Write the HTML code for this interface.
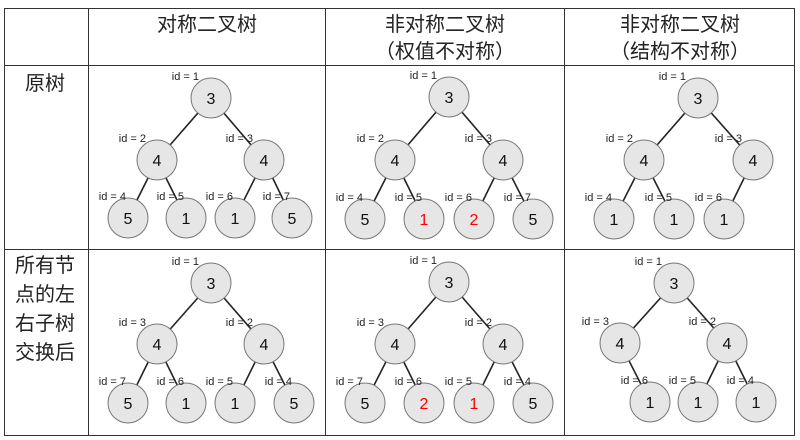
<!DOCTYPE html>
<html><head><meta charset="utf-8"><style>
body{margin:0;background:#fff;width:800px;height:440px;overflow:hidden}
svg{display:block}
.h{font-family:"Liberation Sans","Noto Sans CJK SC",sans-serif;font-size:20px;fill:#222}
.n circle{fill:#e6e6e6;stroke:#777;stroke-width:1}
.v{font-family:"Liberation Sans",sans-serif;font-size:16px;text-anchor:middle;fill:#111}
.r{fill:#f00}
.l{font-family:"Liberation Sans",sans-serif;font-size:11px;text-anchor:end;fill:#222}
line.e{stroke:#222;stroke-width:1.6}
</style></head><body>
<svg width="800" height="440" viewBox="0 0 800 440">
<g stroke="#333" stroke-width="1" fill="none">
<rect x="4.5" y="8.5" width="790" height="427"/>
<line x1="88.5" y1="8" x2="88.5" y2="436"/>
<line x1="325.5" y1="8" x2="325.5" y2="436"/>
<line x1="564.5" y1="8" x2="564.5" y2="436"/>
<line x1="4" y1="65.5" x2="795" y2="65.5"/>
<line x1="4" y1="249.5" x2="795" y2="249.5"/>
</g>
<text class="h" x="207" y="31" text-anchor="middle">对称二叉树</text>
<text class="h" x="445" y="31" text-anchor="middle">非对称二叉树</text>
<text class="h" x="445" y="58" text-anchor="middle">（权值不对称）</text>
<text class="h" x="680" y="31" text-anchor="middle">非对称二叉树</text>
<text class="h" x="680" y="58" text-anchor="middle">（结构不对称）</text>
<text class="h" x="45" y="90" text-anchor="middle">原树</text>
<text class="h" x="45" y="272" text-anchor="middle">所有节</text>
<text class="h" x="45" y="301" text-anchor="middle">点的左</text>
<text class="h" x="45" y="330" text-anchor="middle">右子树</text>
<text class="h" x="45" y="359" text-anchor="middle">交换后</text>

<!-- T1R1 -->
<line class="e" x1="211" y1="98" x2="157" y2="160"/><line class="e" x1="211" y1="98" x2="264" y2="160"/>
<line class="e" x1="157" y1="160" x2="128" y2="218"/><line class="e" x1="157" y1="160" x2="186" y2="218"/>
<line class="e" x1="264" y1="160" x2="235" y2="218"/><line class="e" x1="264" y1="160" x2="292" y2="218"/>
<g class="n">
<circle cx="211" cy="98" r="20"/><circle cx="157" cy="160" r="20"/><circle cx="264" cy="160" r="20"/>
<circle cx="128" cy="218" r="20"/><circle cx="186" cy="218" r="20"/><circle cx="235" cy="218" r="20"/><circle cx="292" cy="218" r="20"/>
</g>
<text class="v" x="211" y="104">3</text><text class="v" x="157" y="166">4</text><text class="v" x="264" y="166">4</text>
<text class="v" x="128" y="224">5</text><text class="v" x="186" y="224">1</text><text class="v" x="235" y="224">1</text><text class="v" x="292" y="224">5</text>
<text class="l" x="199" y="80">id = 1</text><text class="l" x="146" y="142">id = 2</text><text class="l" x="253" y="142">id = 3</text>
<text class="l" x="126" y="200">id = 4</text><text class="l" x="184" y="200">id = 5</text><text class="l" x="233" y="200">id = 6</text><text class="l" x="290" y="200">id = 7</text>

<!-- T2R1 -->
<line class="e" x1="449" y1="97" x2="395" y2="160"/><line class="e" x1="449" y1="97" x2="503" y2="160"/>
<line class="e" x1="395" y1="160" x2="365" y2="219"/><line class="e" x1="395" y1="160" x2="424" y2="219"/>
<line class="e" x1="503" y1="160" x2="474" y2="219"/><line class="e" x1="503" y1="160" x2="533" y2="219"/>
<g class="n">
<circle cx="449" cy="97" r="20"/><circle cx="395" cy="160" r="20"/><circle cx="503" cy="160" r="20"/>
<circle cx="365" cy="219" r="20"/><circle cx="424" cy="219" r="20"/><circle cx="474" cy="219" r="20"/><circle cx="533" cy="219" r="20"/>
</g>
<text class="v" x="449" y="103">3</text><text class="v" x="395" y="166">4</text><text class="v" x="503" y="166">4</text>
<text class="v" x="365" y="225">5</text><text class="v r" x="424" y="225">1</text><text class="v r" x="474" y="225">2</text><text class="v" x="533" y="225">5</text>
<text class="l" x="437" y="79">id = 1</text><text class="l" x="384" y="142">id = 2</text><text class="l" x="492" y="142">id = 3</text>
<text class="l" x="363" y="201">id = 4</text><text class="l" x="422" y="201">id = 5</text><text class="l" x="472" y="201">id = 6</text><text class="l" x="531" y="201">id = 7</text>

<!-- T3R1 -->
<line class="e" x1="698" y1="98" x2="644" y2="160"/><line class="e" x1="698" y1="98" x2="753" y2="160"/>
<line class="e" x1="644" y1="160" x2="614" y2="219"/><line class="e" x1="644" y1="160" x2="674" y2="219"/>
<line class="e" x1="753" y1="160" x2="724" y2="219"/>
<g class="n">
<circle cx="698" cy="98" r="20"/><circle cx="644" cy="160" r="20"/><circle cx="753" cy="160" r="20"/>
<circle cx="614" cy="219" r="20"/><circle cx="674" cy="219" r="20"/><circle cx="724" cy="219" r="20"/>
</g>
<text class="v" x="698" y="104">3</text><text class="v" x="644" y="166">4</text><text class="v" x="753" y="166">4</text>
<text class="v" x="614" y="225">1</text><text class="v" x="674" y="225">1</text><text class="v" x="724" y="225">1</text>
<text class="l" x="686" y="80">id = 1</text><text class="l" x="633" y="142">id = 2</text><text class="l" x="742" y="142">id = 3</text>
<text class="l" x="612" y="201">id = 4</text><text class="l" x="672" y="201">id = 5</text><text class="l" x="722" y="201">id = 6</text>

<!-- T1R2 -->
<line class="e" x1="211" y1="283" x2="157" y2="344"/><line class="e" x1="211" y1="283" x2="264" y2="344"/>
<line class="e" x1="157" y1="344" x2="128" y2="403"/><line class="e" x1="157" y1="344" x2="186" y2="403"/>
<line class="e" x1="264" y1="344" x2="235" y2="403"/><line class="e" x1="264" y1="344" x2="294" y2="403"/>
<g class="n">
<circle cx="211" cy="283" r="20"/><circle cx="157" cy="344" r="20"/><circle cx="264" cy="344" r="20"/>
<circle cx="128" cy="403" r="20"/><circle cx="186" cy="403" r="20"/><circle cx="235" cy="403" r="20"/><circle cx="294" cy="403" r="20"/>
</g>
<text class="v" x="211" y="289">3</text><text class="v" x="157" y="350">4</text><text class="v" x="264" y="350">4</text>
<text class="v" x="128" y="409">5</text><text class="v" x="186" y="409">1</text><text class="v" x="235" y="409">1</text><text class="v" x="294" y="409">5</text>
<text class="l" x="199" y="265">id = 1</text><text class="l" x="146" y="326">id = 3</text><text class="l" x="253" y="326">id = 2</text>
<text class="l" x="126" y="385">id = 7</text><text class="l" x="184" y="385">id = 6</text><text class="l" x="233" y="385">id = 5</text><text class="l" x="292" y="385">id = 4</text>

<!-- T2R2 -->
<line class="e" x1="449" y1="282" x2="395" y2="344"/><line class="e" x1="449" y1="282" x2="503" y2="344"/>
<line class="e" x1="395" y1="344" x2="365" y2="403"/><line class="e" x1="395" y1="344" x2="424" y2="403"/>
<line class="e" x1="503" y1="344" x2="474" y2="403"/><line class="e" x1="503" y1="344" x2="533" y2="403"/>
<g class="n">
<circle cx="449" cy="282" r="20"/><circle cx="395" cy="344" r="20"/><circle cx="503" cy="344" r="20"/>
<circle cx="365" cy="403" r="20"/><circle cx="424" cy="403" r="20"/><circle cx="474" cy="403" r="20"/><circle cx="533" cy="403" r="20"/>
</g>
<text class="v" x="449" y="288">3</text><text class="v" x="395" y="350">4</text><text class="v" x="503" y="350">4</text>
<text class="v" x="365" y="409">5</text><text class="v r" x="424" y="409">2</text><text class="v r" x="474" y="409">1</text><text class="v" x="533" y="409">5</text>
<text class="l" x="437" y="264">id = 1</text><text class="l" x="384" y="326">id = 3</text><text class="l" x="492" y="326">id = 2</text>
<text class="l" x="363" y="385">id = 7</text><text class="l" x="422" y="385">id = 6</text><text class="l" x="472" y="385">id = 5</text><text class="l" x="531" y="385">id = 4</text>

<!-- T3R2 -->
<line class="e" x1="674" y1="283" x2="620" y2="343"/><line class="e" x1="674" y1="283" x2="727" y2="343"/>
<line class="e" x1="620" y1="343" x2="650" y2="402"/>
<line class="e" x1="727" y1="343" x2="698" y2="402"/><line class="e" x1="727" y1="343" x2="756" y2="402"/>
<g class="n">
<circle cx="674" cy="283" r="20"/><circle cx="620" cy="343" r="20"/><circle cx="727" cy="343" r="20"/>
<circle cx="650" cy="402" r="20"/><circle cx="698" cy="402" r="20"/><circle cx="756" cy="402" r="20"/>
</g>
<text class="v" x="674" y="289">3</text><text class="v" x="620" y="349">4</text><text class="v" x="727" y="349">4</text>
<text class="v" x="650" y="408">1</text><text class="v" x="698" y="408">1</text><text class="v" x="756" y="408">1</text>
<text class="l" x="662" y="265">id = 1</text><text class="l" x="609" y="325">id = 3</text><text class="l" x="716" y="325">id = 2</text>
<text class="l" x="648" y="384">id = 6</text><text class="l" x="696" y="384">id = 5</text><text class="l" x="754" y="384">id = 4</text>
</svg>
</body></html>
